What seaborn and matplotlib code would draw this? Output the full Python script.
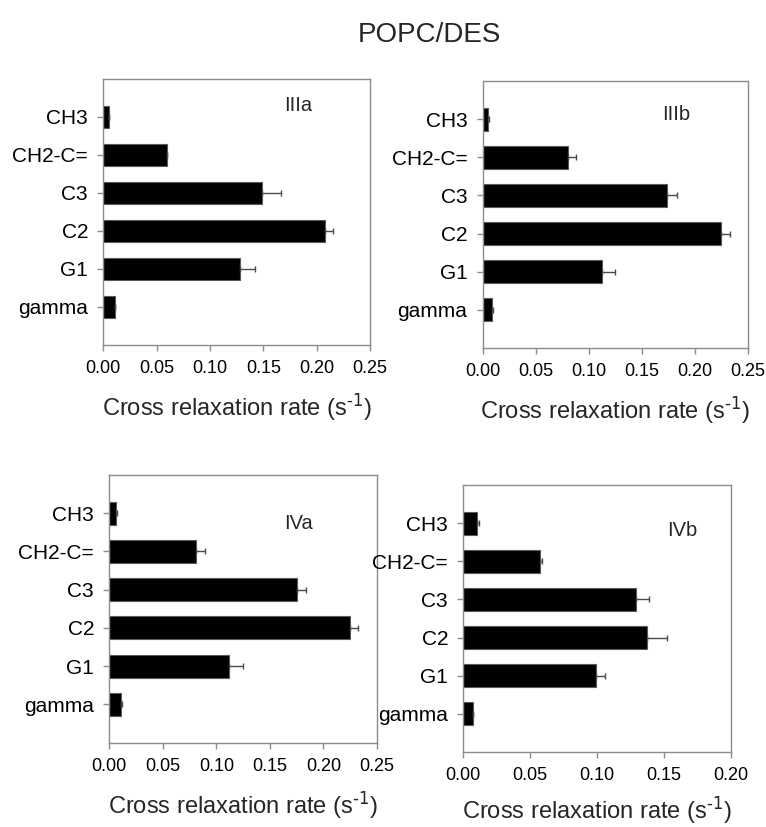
import numpy as np
import pandas as pd
import matplotlib
matplotlib.use("Agg")
import matplotlib.pyplot as plt
import seaborn as sns

# ---- data ----
categories = ["CH3", "CH2-C=", "C3", "C2", "G1", "gamma"]
panel_names = ["IIIa", "IIIb", "IVa", "IVb"]

rate_IIIa = [0.005, 0.060, 0.149, 0.208, 0.128, 0.011]
err_IIIa = [0.0, 0.0, 0.018, 0.007, 0.014, 0.0]

rate_IIIb = [0.005, 0.080, 0.174, 0.225, 0.112, 0.009]
err_IIIb = [0.001, 0.008, 0.009, 0.008, 0.013, 0.001]

rate_IVa = [0.006, 0.081, 0.175, 0.225, 0.112, 0.0105]
err_IVa = [0.001, 0.008, 0.009, 0.0075, 0.013, 0.001]

rate_IVb = [0.0104, 0.0572, 0.129, 0.1376, 0.0988, 0.007]
err_IVb = [0.001, 0.0015, 0.0097, 0.0147, 0.007, 0.0]

xticks_III = [0.00, 0.05, 0.10, 0.15, 0.20, 0.25]
xticks_IVb = [0.00, 0.05, 0.10, 0.15, 0.20]

title = "POPC/DES"
xlabel = r"Cross relaxation rate (s$^{\text{-1}}$)"

# ---- style ----
sns.set_style("ticks")
plt.rcParams["font.family"] = ["Liberation Sans", "DejaVu Sans"]
plt.rcParams["mathtext.default"] = "regular"

fig = plt.figure(figsize=(7.66, 8.27), dpi=100)

W, H = 766.0, 827.0
def rect(x0, x1, y0, y1):
    return [x0 / W, 1 - y1 / H, (x1 - x0) / W, (y1 - y0) / H]

layout = {
    "IIIa": dict(rect=rect(103.3, 370.0, 79, 345), rate=rate_IIIa, err=err_IIIa,
                 ticks=xticks_III, lab=(0.73, 0.90), pad=10.5),
    "IIIb": dict(rect=rect(482.7, 748.0, 81, 348), rate=rate_IIIb, err=err_IIIb,
                 ticks=xticks_III, lab=(0.73, 0.873), pad=10.5),
    "IVa": dict(rect=rect(109.3, 377.0, 475, 742.5), rate=rate_IVa, err=err_IVa,
                ticks=xticks_III, lab=(0.705, 0.82), pad=10.5),
    "IVb": dict(rect=rect(463.3, 731.0, 485, 752), rate=rate_IVb, err=err_IVb,
                ticks=xticks_IVb, lab=(0.817, 0.828), pad=7.5),
}

spine_col = "#8c8c8c"
for name in panel_names:
    p = layout[name]
    ax = fig.add_axes(p["rect"])
    df = pd.DataFrame({"site": categories, "rate": p["rate"], "err": p["err"]})
    sns.barplot(data=df, x="rate", y="site", orient="h", color="black",
                saturation=1, width=0.6, edgecolor="#5a5a5a", linewidth=0.8,
                errorbar=None, ax=ax, zorder=2)
    pos = np.arange(len(categories))
    ax.errorbar(df["rate"], pos, xerr=[np.zeros(len(pos)), df["err"]],
                fmt="none", ecolor="#4a4a4a", elinewidth=1.0, capsize=2.5,
                capthick=1.0, zorder=3)
    ax.set_xlim(p["ticks"][0], p["ticks"][-1])
    ax.set_ylim(len(categories), -1)
    ax.set_xticks(p["ticks"])
    ax.set_xticklabels([f"{t:.2f}" for t in p["ticks"]])
    ax.set_ylabel("")
    ax.set_xlabel(xlabel, fontsize=17, labelpad=p["pad"])
    for s in ax.spines.values():
        s.set_color(spine_col)
        s.set_linewidth(1.0)
    ax.tick_params(axis="x", direction="out", length=4, width=1, color=spine_col,
                   labelsize=13, pad=7, labelcolor="black")
    ax.tick_params(axis="y", direction="out", length=4, width=1, color=spine_col,
                   labelsize=15, pad=7, labelcolor="black")
    ax.text(p["lab"][0], p["lab"][1], name, transform=ax.transAxes,
            ha="center", va="center", fontsize=14.5)

fig.text(0.56, 1 - 35 / H, title, ha="center", va="center", fontsize=20)

fig.savefig("out.png", dpi=100)
